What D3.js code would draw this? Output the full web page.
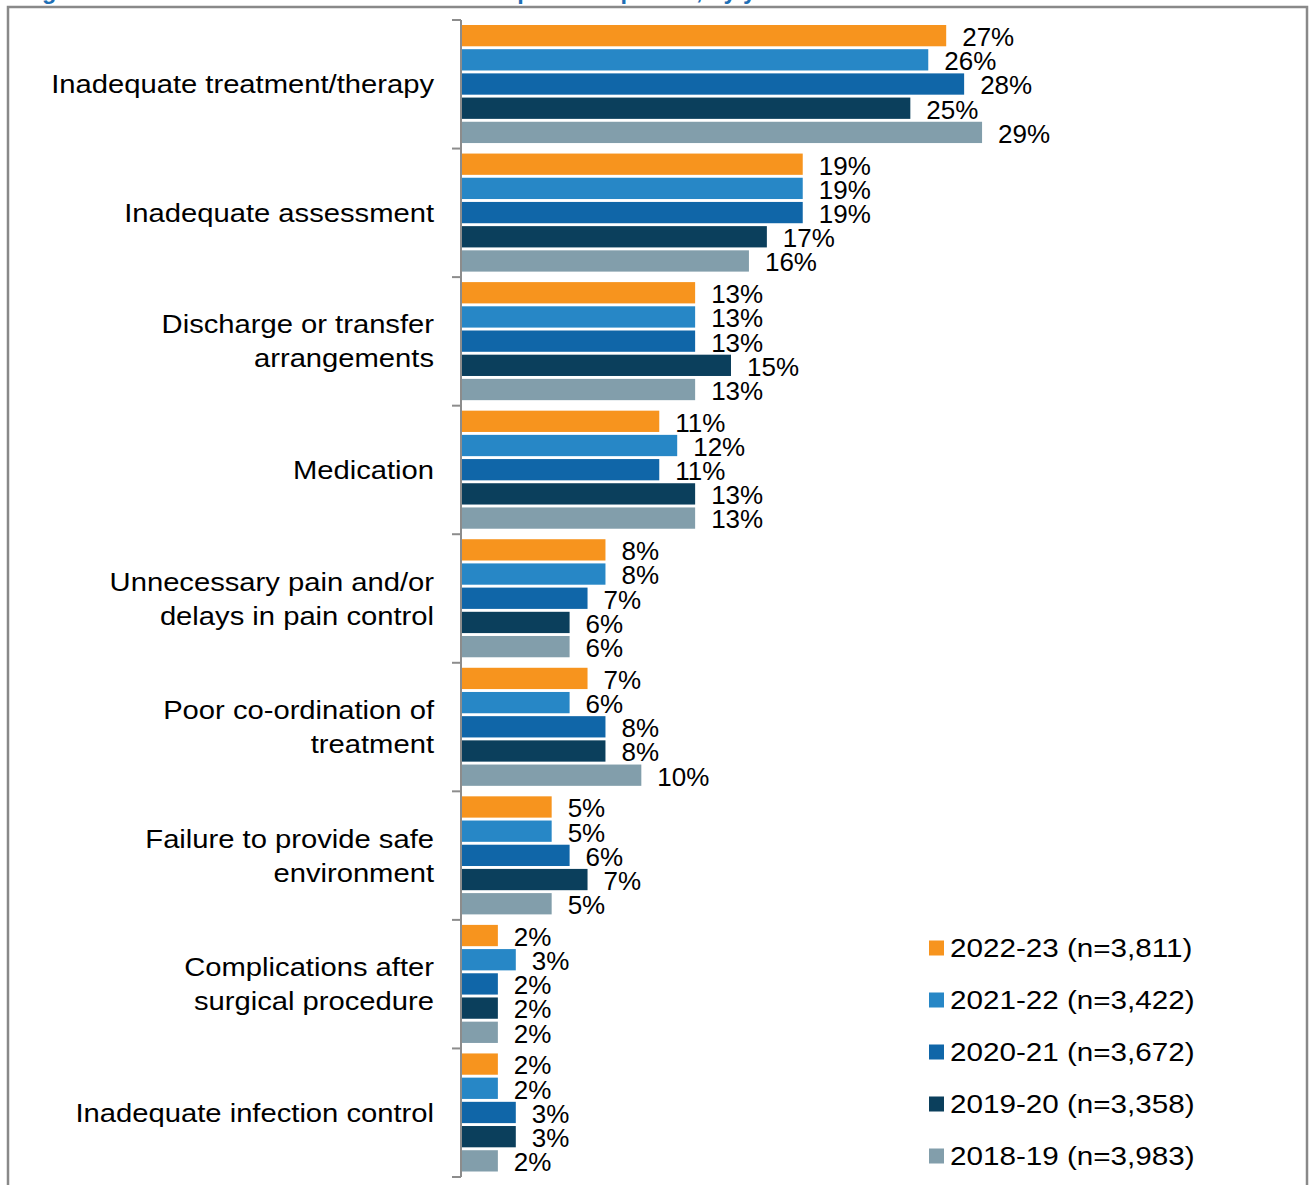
<!DOCTYPE html>
<html>
<head>
<meta charset="utf-8">
<script src="https://cdn.jsdelivr.net/npm/d3@7"></script>
<style>
  html, body { margin: 0; padding: 0; background: #fff; }
  svg { display: block; }
  text { font-family: "Liberation Sans", Arial, sans-serif; }
</style>
</head>
<body>
<script>
const categories = [
  "Inadequate treatment/therapy",
  "Inadequate assessment",
  "Discharge or transfer arrangements",
  "Medication",
  "Unnecessary pain and/or delays in pain control",
  "Poor co-ordination of treatment",
  "Failure to provide safe environment",
  "Complications after surgical procedure",
  "Inadequate infection control"
];
const categoryLines = [
  ["Inadequate treatment/therapy"],
  ["Inadequate assessment"],
  ["Discharge or transfer", "arrangements"],
  ["Medication"],
  ["Unnecessary pain and/or", "delays in pain control"],
  ["Poor co-ordination of", "treatment"],
  ["Failure to provide safe", "environment"],
  ["Complications after", "surgical procedure"],
  ["Inadequate infection control"]
];
const seriesNames = [
  "2022-23 (n=3,811)",
  "2021-22 (n=3,422)",
  "2020-21 (n=3,672)",
  "2019-20 (n=3,358)",
  "2018-19 (n=3,983)"
];
const values2022_23 = [27, 19, 13, 11, 8, 7, 5, 2, 2];
const values2021_22 = [26, 19, 13, 12, 8, 6, 5, 3, 2];
const values2020_21 = [28, 19, 13, 11, 7, 8, 6, 2, 3];
const values2019_20 = [25, 17, 15, 13, 6, 8, 7, 2, 3];
const values2018_19 = [29, 16, 13, 13, 6, 10, 5, 2, 2];
const seriesValues = [values2022_23, values2021_22, values2020_21, values2019_20, values2018_19];
const colors = ["#F7941E", "#2787C6", "#1066A8", "#0B3F5C", "#829EAB"];

const W = 1309, H = 1185;
const svg = d3.select("body").append("svg").attr("width", W).attr("height", H);

// cut-off title at top
svg.append("text")
  .attr("x", 21).attr("y", -1)
  .attr("font-size", 23.5).attr("font-weight", "bold")
  .attr("fill", "#1F6FB5")
  .text("Figure 3: Most common issues raised in hospital complaints, by year");

// frame
svg.append("rect")
  .attr("x", 8).attr("y", 7).attr("width", 1299).attr("height", 1220)
  .attr("fill", "none").attr("stroke", "#898989").attr("stroke-width", 2.5);

const axisX = 461;
const y0 = d3.scaleBand().domain(categories).range([20, 1177]).padding(0);
const y1 = d3.scaleBand().domain(seriesNames).range([5, y0.bandwidth() - 5.5]).paddingInner(0.12);
const x = d3.scaleLinear().domain([0, 30]).range([462, 1000]);

const rows = categories.map((c, i) => ({
  cat: c, lines: categoryLines[i],
  vals: seriesNames.map((s, j) => ({ s, j, v: seriesValues[j][i] }))
}));

const g = svg.append("g");
const groups = g.selectAll("g.cat").data(rows).join("g")
  .attr("class", "cat")
  .attr("transform", d => `translate(0,${y0(d.cat)})`);

groups.selectAll("rect").data(d => d.vals).join("rect")
  .attr("x", x(0))
  .attr("y", d => y1(d.s))
  .attr("width", d => x(d.v) - x(0))
  .attr("height", y1.bandwidth())
  .attr("fill", d => colors[d.j]);

groups.selectAll("text.val").data(d => d.vals).join("text")
  .attr("class", "val")
  .attr("x", d => x(d.v) + 16)
  .attr("y", d => y1(d.s) + y1.bandwidth() / 2)
  .attr("dy", "0.4em")
  .attr("font-size", 26)
  .attr("fill", "#000")
  .text(d => d.v + "%");

// category labels (horizontally stretched like the reference)
groups.each(function(d) {
  const n = d.lines.length;
  const lh = 34;
  const t = d3.select(this).append("text")
    .attr("transform", `translate(434,0) scale(1.123,1)`)
    .attr("text-anchor", "end")
    .attr("font-size", 26)
    .attr("fill", "#000");
  d.lines.forEach((ln, k) => {
    t.append("tspan")
      .attr("x", 0)
      .attr("y", y0.bandwidth() / 2 + (k - (n - 1) / 2) * lh)
      .attr("dy", "0.35em")
      .text(ln);
  });
});

// axis line and ticks at band boundaries
svg.append("line")
  .attr("x1", axisX).attr("x2", axisX)
  .attr("y1", y0.range()[0]).attr("y2", y0.range()[1])
  .attr("stroke", "#8c8c8c").attr("stroke-width", 2);
const tickYs = categories.map(c => y0(c)).concat([y0.range()[1]]);
svg.selectAll("line.tick").data(tickYs).join("line")
  .attr("class", "tick")
  .attr("x1", 452).attr("x2", axisX)
  .attr("y1", d => d).attr("y2", d => d)
  .attr("stroke", "#8c8c8c").attr("stroke-width", 2);

// legend
const lg = svg.append("g");
const items = lg.selectAll("g").data(seriesNames).join("g")
  .attr("transform", (d, i) => `translate(929,${948 + i * 52})`);
items.append("rect")
  .attr("x", 0).attr("y", -7.5).attr("width", 15).attr("height", 15)
  .attr("fill", (d, i) => colors[i]);
items.append("text")
  .attr("transform", "translate(21,0) scale(1.14,1)")
  .attr("x", 0).attr("y", 0).attr("dy", "0.36em")
  .attr("font-size", 26).attr("fill", "#000")
  .text(d => d);
</script>
</body>
</html>
